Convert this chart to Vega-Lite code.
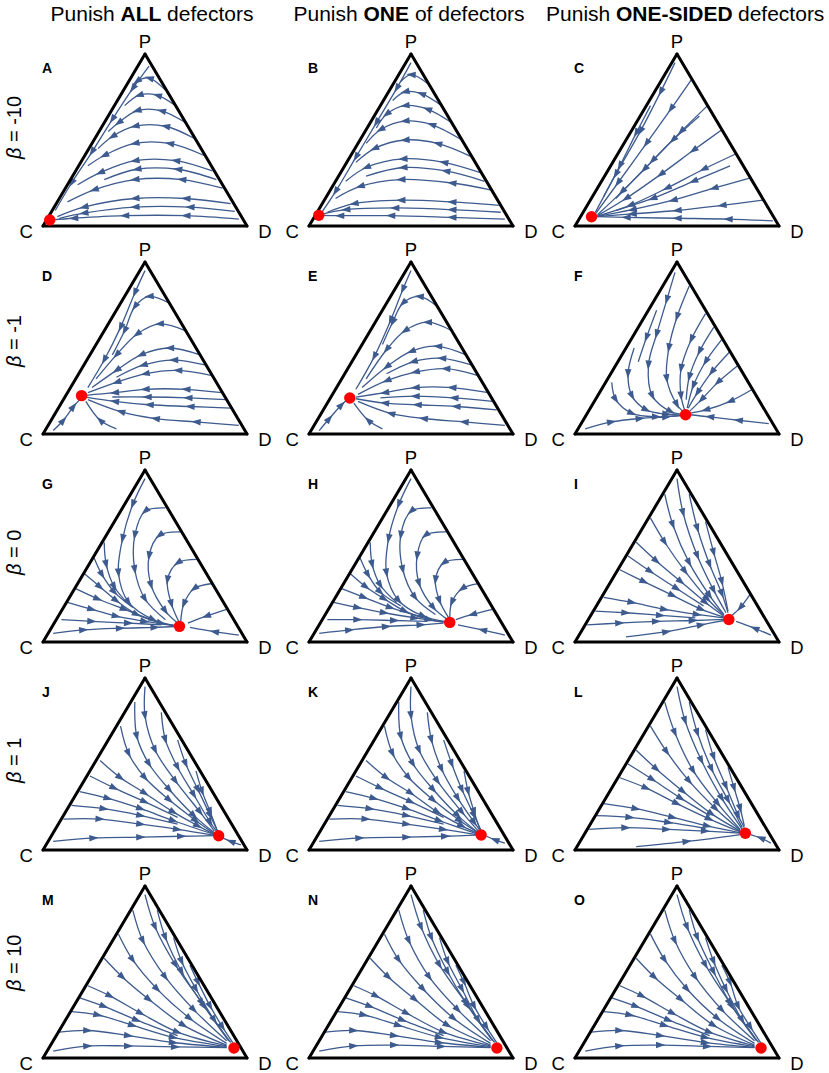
{
"$schema": "https://vega.github.io/schema/vega-lite/v6.json",
"padding": {"left": 5, "top": 3, "right": 0, "bottom": 6},
"background": "white",
"data": {"values": [
{"p":"A","k":"e","x":0.033,"y":0.035,"b":"= -10"},
{"p":"B","k":"e","x":0.048,"y":0.062},
{"p":"C","k":"e","x":0.081,"y":0.054},
{"p":"D","k":"e","x":0.189,"y":0.223,"b":"= -1"},
{"p":"E","k":"e","x":0.2,"y":0.209},
{"p":"F","k":"e","x":0.542,"y":0.112},
{"p":"G","k":"e","x":0.669,"y":0.091,"b":"= 0"},
{"p":"H","k":"e","x":0.69,"y":0.114},
{"p":"I","k":"e","x":0.754,"y":0.131},
{"p":"J","k":"e","x":0.861,"y":0.083,"b":"= 1"},
{"p":"K","k":"e","x":0.844,"y":0.087},
{"p":"L","k":"e","x":0.835,"y":0.097},
{"p":"M","k":"e","x":0.936,"y":0.058,"b":"= 10"},
{"p":"N","k":"e","x":0.921,"y":0.058},
{"p":"O","k":"e","x":0.912,"y":0.058},

{"p":"A","l":1,"x":0.96,"y":0.04},{"p":"A","l":1,"x":0.7,"y":0.06},{"p":"A","l":1,"x":0.4,"y":0.06},{"p":"A","l":1,"x":0.15,"y":0.045},{"p":"A","l":1,"x":0.05,"y":0.036},
{"p":"A","l":2,"x":0.92,"y":0.13},{"p":"A","l":2,"x":0.7,"y":0.16},{"p":"A","l":2,"x":0.45,"y":0.16},{"p":"A","l":2,"x":0.2,"y":0.11},{"p":"A","l":2,"x":0.07,"y":0.055},
{"p":"A","l":3,"x":0.88,"y":0.22},{"p":"A","l":3,"x":0.68,"y":0.27},{"p":"A","l":3,"x":0.45,"y":0.27},{"p":"A","l":3,"x":0.25,"y":0.21},{"p":"A","l":3,"x":0.12,"y":0.14},
{"p":"A","l":4,"x":0.83,"y":0.32},{"p":"A","l":4,"x":0.65,"y":0.38},{"p":"A","l":4,"x":0.45,"y":0.38},{"p":"A","l":4,"x":0.28,"y":0.31},{"p":"A","l":4,"x":0.17,"y":0.24},
{"p":"A","l":5,"x":0.79,"y":0.41},{"p":"A","l":5,"x":0.62,"y":0.48},{"p":"A","l":5,"x":0.45,"y":0.48},{"p":"A","l":5,"x":0.3,"y":0.41},{"p":"A","l":5,"x":0.22,"y":0.35},
{"p":"A","l":6,"x":0.74,"y":0.51},{"p":"A","l":6,"x":0.6,"y":0.58},{"p":"A","l":6,"x":0.45,"y":0.58},{"p":"A","l":6,"x":0.34,"y":0.52},{"p":"A","l":6,"x":0.27,"y":0.45},
{"p":"A","l":7,"x":0.7,"y":0.6},{"p":"A","l":7,"x":0.58,"y":0.67},{"p":"A","l":7,"x":0.46,"y":0.67},{"p":"A","l":7,"x":0.37,"y":0.6},{"p":"A","l":7,"x":0.32,"y":0.55},
{"p":"A","l":8,"x":0.65,"y":0.7},{"p":"A","l":8,"x":0.56,"y":0.76},{"p":"A","l":8,"x":0.47,"y":0.76},{"p":"A","l":8,"x":0.4,"y":0.7},
{"p":"A","l":9,"x":0.6,"y":0.79},{"p":"A","l":9,"x":0.52,"y":0.86},{"p":"A","l":9,"x":0.46,"y":0.84},{"p":"A","l":9,"x":0.43,"y":0.78},
{"p":"A","l":10,"x":0.52,"y":0.93},{"p":"A","l":10,"x":0.44,"y":0.8},{"p":"A","l":10,"x":0.34,"y":0.62},{"p":"A","l":10,"x":0.24,"y":0.43},{"p":"A","l":10,"x":0.14,"y":0.25},{"p":"A","l":10,"x":0.06,"y":0.09},
{"p":"A","l":11,"x":0.94,"y":0.085},{"p":"A","l":11,"x":0.72,"y":0.11},{"p":"A","l":11,"x":0.45,"y":0.11},{"p":"A","l":11,"x":0.2,"y":0.075},{"p":"A","l":11,"x":0.08,"y":0.045},
{"p":"A","l":12,"x":0.85,"y":0.27},{"p":"A","l":12,"x":0.66,"y":0.33},{"p":"A","l":12,"x":0.46,"y":0.33},{"p":"A","l":12,"x":0.3,"y":0.27},

{"p":"B","l":1,"x":0.96,"y":0.04},{"p":"B","l":1,"x":0.7,"y":0.05},{"p":"B","l":1,"x":0.4,"y":0.06},{"p":"B","l":1,"x":0.15,"y":0.06},{"p":"B","l":1,"x":0.06,"y":0.062},
{"p":"B","l":2,"x":0.93,"y":0.12},{"p":"B","l":2,"x":0.7,"y":0.14},{"p":"B","l":2,"x":0.45,"y":0.15},{"p":"B","l":2,"x":0.22,"y":0.13},{"p":"B","l":2,"x":0.09,"y":0.08},
{"p":"B","l":3,"x":0.89,"y":0.21},{"p":"B","l":3,"x":0.7,"y":0.25},{"p":"B","l":3,"x":0.45,"y":0.27},{"p":"B","l":3,"x":0.25,"y":0.23},{"p":"B","l":3,"x":0.13,"y":0.16},
{"p":"B","l":4,"x":0.84,"y":0.31},{"p":"B","l":4,"x":0.66,"y":0.37},{"p":"B","l":4,"x":0.46,"y":0.39},{"p":"B","l":4,"x":0.28,"y":0.34},{"p":"B","l":4,"x":0.18,"y":0.26},
{"p":"B","l":5,"x":0.8,"y":0.4},{"p":"B","l":5,"x":0.63,"y":0.48},{"p":"B","l":5,"x":0.47,"y":0.5},{"p":"B","l":5,"x":0.32,"y":0.45},{"p":"B","l":5,"x":0.23,"y":0.37},
{"p":"B","l":6,"x":0.75,"y":0.5},{"p":"B","l":6,"x":0.6,"y":0.59},{"p":"B","l":6,"x":0.47,"y":0.61},{"p":"B","l":6,"x":0.35,"y":0.56},{"p":"B","l":6,"x":0.28,"y":0.48},
{"p":"B","l":7,"x":0.7,"y":0.6},{"p":"B","l":7,"x":0.58,"y":0.68},{"p":"B","l":7,"x":0.47,"y":0.7},{"p":"B","l":7,"x":0.38,"y":0.65},{"p":"B","l":7,"x":0.33,"y":0.57},
{"p":"B","l":8,"x":0.65,"y":0.7},{"p":"B","l":8,"x":0.55,"y":0.77},{"p":"B","l":8,"x":0.47,"y":0.78},{"p":"B","l":8,"x":0.41,"y":0.73},
{"p":"B","l":9,"x":0.58,"y":0.83},{"p":"B","l":9,"x":0.5,"y":0.88},{"p":"B","l":9,"x":0.45,"y":0.84},
{"p":"B","l":10,"x":0.5,"y":0.95},{"p":"B","l":10,"x":0.43,"y":0.8},{"p":"B","l":10,"x":0.33,"y":0.6},{"p":"B","l":10,"x":0.23,"y":0.4},{"p":"B","l":10,"x":0.13,"y":0.2},{"p":"B","l":10,"x":0.06,"y":0.075},
{"p":"B","l":11,"x":0.94,"y":0.08},{"p":"B","l":11,"x":0.7,"y":0.095},{"p":"B","l":11,"x":0.42,"y":0.105},{"p":"B","l":11,"x":0.18,"y":0.095},{"p":"B","l":11,"x":0.07,"y":0.07},
{"p":"B","l":12,"x":0.86,"y":0.26},{"p":"B","l":12,"x":0.67,"y":0.32},{"p":"B","l":12,"x":0.46,"y":0.34},{"p":"B","l":12,"x":0.28,"y":0.29},

{"p":"C","l":1,"x":0.49,"y":0.95},{"p":"C","l":1,"x":0.42,"y":0.78},{"p":"C","l":1,"x":0.32,"y":0.55},{"p":"C","l":1,"x":0.2,"y":0.3},{"p":"C","l":1,"x":0.1,"y":0.08},
{"p":"C","l":2,"x":0.57,"y":0.85},{"p":"C","l":2,"x":0.47,"y":0.68},{"p":"C","l":2,"x":0.35,"y":0.48},{"p":"C","l":2,"x":0.21,"y":0.25},{"p":"C","l":2,"x":0.1,"y":0.07},
{"p":"C","l":3,"x":0.65,"y":0.7},{"p":"C","l":3,"x":0.52,"y":0.55},{"p":"C","l":3,"x":0.38,"y":0.38},{"p":"C","l":3,"x":0.23,"y":0.2},{"p":"C","l":3,"x":0.11,"y":0.065},
{"p":"C","l":4,"x":0.72,"y":0.56},{"p":"C","l":4,"x":0.58,"y":0.44},{"p":"C","l":4,"x":0.42,"y":0.3},{"p":"C","l":4,"x":0.25,"y":0.16},{"p":"C","l":4,"x":0.11,"y":0.06},
{"p":"C","l":5,"x":0.79,"y":0.42},{"p":"C","l":5,"x":0.63,"y":0.33},{"p":"C","l":5,"x":0.45,"y":0.22},{"p":"C","l":5,"x":0.27,"y":0.12},{"p":"C","l":5,"x":0.11,"y":0.058},
{"p":"C","l":6,"x":0.86,"y":0.28},{"p":"C","l":6,"x":0.68,"y":0.22},{"p":"C","l":6,"x":0.48,"y":0.15},{"p":"C","l":6,"x":0.28,"y":0.095},{"p":"C","l":6,"x":0.11,"y":0.056},
{"p":"C","l":7,"x":0.92,"y":0.15},{"p":"C","l":7,"x":0.72,"y":0.12},{"p":"C","l":7,"x":0.5,"y":0.09},{"p":"C","l":7,"x":0.28,"y":0.07},{"p":"C","l":7,"x":0.11,"y":0.055},
{"p":"C","l":8,"x":0.97,"y":0.03},{"p":"C","l":8,"x":0.75,"y":0.04},{"p":"C","l":8,"x":0.5,"y":0.045},{"p":"C","l":8,"x":0.25,"y":0.05},{"p":"C","l":8,"x":0.11,"y":0.054},
{"p":"C","l":9,"x":0.37,"y":0.7},{"p":"C","l":9,"x":0.3,"y":0.54},{"p":"C","l":9,"x":0.22,"y":0.35},{"p":"C","l":9,"x":0.14,"y":0.17},
{"p":"C","l":10,"x":0.61,"y":0.64},{"p":"C","l":10,"x":0.48,"y":0.5},{"p":"C","l":10,"x":0.34,"y":0.33},{"p":"C","l":10,"x":0.2,"y":0.16},
{"p":"C","l":11,"x":0.76,"y":0.35},{"p":"C","l":11,"x":0.58,"y":0.26},{"p":"C","l":11,"x":0.38,"y":0.16},{"p":"C","l":11,"x":0.2,"y":0.09},

{"p":"D","l":1,"x":0.5,"y":0.95},{"p":"D","l":1,"x":0.45,"y":0.82},{"p":"D","l":1,"x":0.38,"y":0.62},{"p":"D","l":1,"x":0.3,"y":0.43},{"p":"D","l":1,"x":0.22,"y":0.27},
{"p":"D","l":2,"x":0.62,"y":0.76},{"p":"D","l":2,"x":0.52,"y":0.8},{"p":"D","l":2,"x":0.45,"y":0.74},{"p":"D","l":2,"x":0.4,"y":0.6},{"p":"D","l":2,"x":0.34,"y":0.46},
{"p":"D","l":3,"x":0.7,"y":0.6},{"p":"D","l":3,"x":0.57,"y":0.64},{"p":"D","l":3,"x":0.46,"y":0.58},{"p":"D","l":3,"x":0.36,"y":0.46},{"p":"D","l":3,"x":0.26,"y":0.32},
{"p":"D","l":4,"x":0.77,"y":0.46},{"p":"D","l":4,"x":0.62,"y":0.5},{"p":"D","l":4,"x":0.48,"y":0.46},{"p":"D","l":4,"x":0.36,"y":0.37},{"p":"D","l":4,"x":0.24,"y":0.27},
{"p":"D","l":5,"x":0.83,"y":0.34},{"p":"D","l":5,"x":0.66,"y":0.37},{"p":"D","l":5,"x":0.5,"y":0.35},{"p":"D","l":5,"x":0.36,"y":0.3},{"p":"D","l":5,"x":0.22,"y":0.24},
{"p":"D","l":6,"x":0.88,"y":0.24},{"p":"D","l":6,"x":0.7,"y":0.26},{"p":"D","l":6,"x":0.5,"y":0.26},{"p":"D","l":6,"x":0.35,"y":0.24},{"p":"D","l":6,"x":0.21,"y":0.225},
{"p":"D","l":7,"x":0.92,"y":0.15},{"p":"D","l":7,"x":0.72,"y":0.16},{"p":"D","l":7,"x":0.52,"y":0.17},{"p":"D","l":7,"x":0.35,"y":0.19},{"p":"D","l":7,"x":0.21,"y":0.215},
{"p":"D","l":8,"x":0.96,"y":0.05},{"p":"D","l":8,"x":0.75,"y":0.07},{"p":"D","l":8,"x":0.55,"y":0.09},{"p":"D","l":8,"x":0.38,"y":0.13},{"p":"D","l":8,"x":0.22,"y":0.2},
{"p":"D","l":9,"x":0.05,"y":0.02},{"p":"D","l":9,"x":0.1,"y":0.08},{"p":"D","l":9,"x":0.15,"y":0.16},{"p":"D","l":9,"x":0.18,"y":0.2},
{"p":"D","l":10,"x":0.36,"y":0.03},{"p":"D","l":10,"x":0.28,"y":0.08},{"p":"D","l":10,"x":0.21,"y":0.19},
{"p":"D","l":11,"x":0.8,"y":0.4},{"p":"D","l":11,"x":0.64,"y":0.43},{"p":"D","l":11,"x":0.49,"y":0.4},{"p":"D","l":11,"x":0.36,"y":0.33},
{"p":"D","l":12,"x":0.9,"y":0.2},{"p":"D","l":12,"x":0.71,"y":0.21},{"p":"D","l":12,"x":0.51,"y":0.215},{"p":"D","l":12,"x":0.34,"y":0.215},

{"p":"E","l":1,"x":0.5,"y":0.95},{"p":"E","l":1,"x":0.46,"y":0.84},{"p":"E","l":1,"x":0.4,"y":0.66},{"p":"E","l":1,"x":0.32,"y":0.45},{"p":"E","l":1,"x":0.23,"y":0.26},
{"p":"E","l":2,"x":0.63,"y":0.74},{"p":"E","l":2,"x":0.54,"y":0.8},{"p":"E","l":2,"x":0.46,"y":0.76},{"p":"E","l":2,"x":0.41,"y":0.65},{"p":"E","l":2,"x":0.36,"y":0.52},
{"p":"E","l":3,"x":0.7,"y":0.6},{"p":"E","l":3,"x":0.58,"y":0.65},{"p":"E","l":3,"x":0.47,"y":0.6},{"p":"E","l":3,"x":0.38,"y":0.49},{"p":"E","l":3,"x":0.28,"y":0.32},
{"p":"E","l":4,"x":0.77,"y":0.46},{"p":"E","l":4,"x":0.63,"y":0.51},{"p":"E","l":4,"x":0.5,"y":0.48},{"p":"E","l":4,"x":0.38,"y":0.39},{"p":"E","l":4,"x":0.26,"y":0.27},
{"p":"E","l":5,"x":0.83,"y":0.34},{"p":"E","l":5,"x":0.67,"y":0.38},{"p":"E","l":5,"x":0.52,"y":0.36},{"p":"E","l":5,"x":0.38,"y":0.31},{"p":"E","l":5,"x":0.24,"y":0.23},
{"p":"E","l":6,"x":0.88,"y":0.24},{"p":"E","l":6,"x":0.7,"y":0.27},{"p":"E","l":6,"x":0.52,"y":0.27},{"p":"E","l":6,"x":0.37,"y":0.24},{"p":"E","l":6,"x":0.23,"y":0.215},
{"p":"E","l":7,"x":0.92,"y":0.14},{"p":"E","l":7,"x":0.72,"y":0.16},{"p":"E","l":7,"x":0.53,"y":0.17},{"p":"E","l":7,"x":0.37,"y":0.18},{"p":"E","l":7,"x":0.23,"y":0.205},
{"p":"E","l":8,"x":0.96,"y":0.05},{"p":"E","l":8,"x":0.76,"y":0.07},{"p":"E","l":8,"x":0.56,"y":0.09},{"p":"E","l":8,"x":0.4,"y":0.12},{"p":"E","l":8,"x":0.24,"y":0.19},
{"p":"E","l":9,"x":0.05,"y":0.02},{"p":"E","l":9,"x":0.1,"y":0.09},{"p":"E","l":9,"x":0.16,"y":0.17},{"p":"E","l":9,"x":0.19,"y":0.2},
{"p":"E","l":10,"x":0.36,"y":0.03},{"p":"E","l":10,"x":0.29,"y":0.08},{"p":"E","l":10,"x":0.22,"y":0.18},
{"p":"E","l":11,"x":0.8,"y":0.4},{"p":"E","l":11,"x":0.65,"y":0.44},{"p":"E","l":11,"x":0.51,"y":0.42},{"p":"E","l":11,"x":0.38,"y":0.35},
{"p":"E","l":12,"x":0.9,"y":0.19},{"p":"E","l":12,"x":0.71,"y":0.21},{"p":"E","l":12,"x":0.52,"y":0.22},{"p":"E","l":12,"x":0.35,"y":0.21},

{"p":"F","l":1,"x":0.49,"y":0.94},{"p":"F","l":1,"x":0.45,"y":0.78},{"p":"F","l":1,"x":0.4,"y":0.58},{"p":"F","l":1,"x":0.36,"y":0.4},{"p":"F","l":1,"x":0.38,"y":0.22},{"p":"F","l":1,"x":0.47,"y":0.13},{"p":"F","l":1,"x":0.53,"y":0.115},
{"p":"F","l":2,"x":0.56,"y":0.86},{"p":"F","l":2,"x":0.5,"y":0.68},{"p":"F","l":2,"x":0.46,"y":0.5},{"p":"F","l":2,"x":0.45,"y":0.32},{"p":"F","l":2,"x":0.5,"y":0.17},{"p":"F","l":2,"x":0.535,"y":0.125},
{"p":"F","l":3,"x":0.64,"y":0.7},{"p":"F","l":3,"x":0.57,"y":0.55},{"p":"F","l":3,"x":0.52,"y":0.38},{"p":"F","l":3,"x":0.52,"y":0.22},{"p":"F","l":3,"x":0.54,"y":0.13},
{"p":"F","l":4,"x":0.72,"y":0.55},{"p":"F","l":4,"x":0.64,"y":0.42},{"p":"F","l":4,"x":0.58,"y":0.28},{"p":"F","l":4,"x":0.55,"y":0.15},
{"p":"F","l":5,"x":0.8,"y":0.4},{"p":"F","l":5,"x":0.7,"y":0.3},{"p":"F","l":5,"x":0.62,"y":0.2},{"p":"F","l":5,"x":0.56,"y":0.13},
{"p":"F","l":6,"x":0.87,"y":0.26},{"p":"F","l":6,"x":0.76,"y":0.19},{"p":"F","l":6,"x":0.64,"y":0.14},{"p":"F","l":6,"x":0.56,"y":0.12},
{"p":"F","l":7,"x":0.95,"y":0.06},{"p":"F","l":7,"x":0.8,"y":0.08},{"p":"F","l":7,"x":0.66,"y":0.1},{"p":"F","l":7,"x":0.56,"y":0.112},
{"p":"F","l":8,"x":0.29,"y":0.5},{"p":"F","l":8,"x":0.26,"y":0.35},{"p":"F","l":8,"x":0.28,"y":0.22},{"p":"F","l":8,"x":0.35,"y":0.14},{"p":"F","l":8,"x":0.45,"y":0.115},{"p":"F","l":8,"x":0.53,"y":0.11},
{"p":"F","l":9,"x":0.18,"y":0.3},{"p":"F","l":9,"x":0.2,"y":0.2},{"p":"F","l":9,"x":0.28,"y":0.12},{"p":"F","l":9,"x":0.4,"y":0.1},{"p":"F","l":9,"x":0.52,"y":0.108},
{"p":"F","l":10,"x":0.05,"y":0.03},{"p":"F","l":10,"x":0.18,"y":0.07},{"p":"F","l":10,"x":0.32,"y":0.09},{"p":"F","l":10,"x":0.45,"y":0.1},{"p":"F","l":10,"x":0.53,"y":0.108},
{"p":"F","l":11,"x":0.4,"y":0.72},{"p":"F","l":11,"x":0.35,"y":0.56},{"p":"F","l":11,"x":0.31,"y":0.42},
{"p":"F","l":12,"x":0.68,"y":0.62},{"p":"F","l":12,"x":0.61,"y":0.48},{"p":"F","l":12,"x":0.56,"y":0.33},{"p":"F","l":12,"x":0.545,"y":0.2},
{"p":"F","l":13,"x":0.76,"y":0.48},{"p":"F","l":13,"x":0.67,"y":0.36},{"p":"F","l":13,"x":0.6,"y":0.24},{"p":"F","l":13,"x":0.555,"y":0.15},

{"p":"G","l":1,"x":0.5,"y":0.95},{"p":"G","l":1,"x":0.44,"y":0.8},{"p":"G","l":1,"x":0.39,"y":0.6},{"p":"G","l":1,"x":0.37,"y":0.4},{"p":"G","l":1,"x":0.42,"y":0.23},{"p":"G","l":1,"x":0.54,"y":0.13},{"p":"G","l":1,"x":0.65,"y":0.095},
{"p":"G","l":2,"x":0.6,"y":0.78},{"p":"G","l":2,"x":0.5,"y":0.76},{"p":"G","l":2,"x":0.45,"y":0.62},{"p":"G","l":2,"x":0.45,"y":0.42},{"p":"G","l":2,"x":0.5,"y":0.25},{"p":"G","l":2,"x":0.6,"y":0.13},
{"p":"G","l":3,"x":0.68,"y":0.64},{"p":"G","l":3,"x":0.57,"y":0.62},{"p":"G","l":3,"x":0.52,"y":0.5},{"p":"G","l":3,"x":0.53,"y":0.33},{"p":"G","l":3,"x":0.6,"y":0.18},{"p":"G","l":3,"x":0.66,"y":0.11},
{"p":"G","l":4,"x":0.76,"y":0.48},{"p":"G","l":4,"x":0.66,"y":0.46},{"p":"G","l":4,"x":0.61,"y":0.36},{"p":"G","l":4,"x":0.63,"y":0.22},{"p":"G","l":4,"x":0.665,"y":0.12},
{"p":"G","l":5,"x":0.83,"y":0.34},{"p":"G","l":5,"x":0.74,"y":0.31},{"p":"G","l":5,"x":0.69,"y":0.22},{"p":"G","l":5,"x":0.675,"y":0.12},
{"p":"G","l":6,"x":0.9,"y":0.19},{"p":"G","l":6,"x":0.8,"y":0.15},{"p":"G","l":6,"x":0.71,"y":0.11},
{"p":"G","l":7,"x":0.96,"y":0.04},{"p":"G","l":7,"x":0.84,"y":0.06},{"p":"G","l":7,"x":0.72,"y":0.085},
{"p":"G","l":8,"x":0.2,"y":0.4},{"p":"G","l":8,"x":0.28,"y":0.32},{"p":"G","l":8,"x":0.36,"y":0.24},{"p":"G","l":8,"x":0.46,"y":0.16},{"p":"G","l":8,"x":0.58,"y":0.11},{"p":"G","l":8,"x":0.65,"y":0.095},
{"p":"G","l":9,"x":0.12,"y":0.23},{"p":"G","l":9,"x":0.24,"y":0.19},{"p":"G","l":9,"x":0.36,"y":0.15},{"p":"G","l":9,"x":0.5,"y":0.12},{"p":"G","l":9,"x":0.64,"y":0.095},
{"p":"G","l":10,"x":0.05,"y":0.05},{"p":"G","l":10,"x":0.2,"y":0.07},{"p":"G","l":10,"x":0.38,"y":0.08},{"p":"G","l":10,"x":0.55,"y":0.085},{"p":"G","l":10,"x":0.65,"y":0.09},
{"p":"G","l":11,"x":0.3,"y":0.58},{"p":"G","l":11,"x":0.31,"y":0.45},{"p":"G","l":11,"x":0.35,"y":0.32},{"p":"G","l":11,"x":0.42,"y":0.22},
{"p":"G","l":12,"x":0.16,"y":0.31},{"p":"G","l":12,"x":0.27,"y":0.25},{"p":"G","l":12,"x":0.4,"y":0.19},{"p":"G","l":12,"x":0.53,"y":0.13},
{"p":"G","l":13,"x":0.09,"y":0.13},{"p":"G","l":13,"x":0.24,"y":0.12},{"p":"G","l":13,"x":0.42,"y":0.11},{"p":"G","l":13,"x":0.58,"y":0.1},
{"p":"G","l":14,"x":0.25,"y":0.49},{"p":"G","l":14,"x":0.29,"y":0.39},{"p":"G","l":14,"x":0.35,"y":0.29},{"p":"G","l":14,"x":0.44,"y":0.2},

{"p":"H","l":1,"x":0.5,"y":0.95},{"p":"H","l":1,"x":0.44,"y":0.8},{"p":"H","l":1,"x":0.39,"y":0.6},{"p":"H","l":1,"x":0.38,"y":0.4},{"p":"H","l":1,"x":0.44,"y":0.24},{"p":"H","l":1,"x":0.56,"y":0.15},{"p":"H","l":1,"x":0.67,"y":0.118},
{"p":"H","l":2,"x":0.6,"y":0.78},{"p":"H","l":2,"x":0.5,"y":0.76},{"p":"H","l":2,"x":0.45,"y":0.62},{"p":"H","l":2,"x":0.46,"y":0.42},{"p":"H","l":2,"x":0.52,"y":0.26},{"p":"H","l":2,"x":0.62,"y":0.16},
{"p":"H","l":3,"x":0.68,"y":0.64},{"p":"H","l":3,"x":0.57,"y":0.62},{"p":"H","l":3,"x":0.53,"y":0.5},{"p":"H","l":3,"x":0.54,"y":0.34},{"p":"H","l":3,"x":0.61,"y":0.2},{"p":"H","l":3,"x":0.68,"y":0.13},
{"p":"H","l":4,"x":0.76,"y":0.48},{"p":"H","l":4,"x":0.66,"y":0.46},{"p":"H","l":4,"x":0.62,"y":0.36},{"p":"H","l":4,"x":0.64,"y":0.24},{"p":"H","l":4,"x":0.685,"y":0.14},
{"p":"H","l":5,"x":0.83,"y":0.34},{"p":"H","l":5,"x":0.75,"y":0.31},{"p":"H","l":5,"x":0.7,"y":0.23},{"p":"H","l":5,"x":0.69,"y":0.14},
{"p":"H","l":6,"x":0.9,"y":0.19},{"p":"H","l":6,"x":0.8,"y":0.16},{"p":"H","l":6,"x":0.72,"y":0.13},
{"p":"H","l":7,"x":0.96,"y":0.04},{"p":"H","l":7,"x":0.85,"y":0.07},{"p":"H","l":7,"x":0.73,"y":0.1},
{"p":"H","l":8,"x":0.2,"y":0.4},{"p":"H","l":8,"x":0.28,"y":0.32},{"p":"H","l":8,"x":0.37,"y":0.25},{"p":"H","l":8,"x":0.47,"y":0.18},{"p":"H","l":8,"x":0.59,"y":0.13},{"p":"H","l":8,"x":0.67,"y":0.115},
{"p":"H","l":9,"x":0.12,"y":0.23},{"p":"H","l":9,"x":0.24,"y":0.2},{"p":"H","l":9,"x":0.37,"y":0.17},{"p":"H","l":9,"x":0.52,"y":0.14},{"p":"H","l":9,"x":0.66,"y":0.115},
{"p":"H","l":10,"x":0.05,"y":0.05},{"p":"H","l":10,"x":0.2,"y":0.07},{"p":"H","l":10,"x":0.38,"y":0.09},{"p":"H","l":10,"x":0.55,"y":0.1},{"p":"H","l":10,"x":0.66,"y":0.11},
{"p":"H","l":11,"x":0.3,"y":0.58},{"p":"H","l":11,"x":0.31,"y":0.45},{"p":"H","l":11,"x":0.35,"y":0.33},{"p":"H","l":11,"x":0.43,"y":0.23},
{"p":"H","l":12,"x":0.16,"y":0.31},{"p":"H","l":12,"x":0.27,"y":0.26},{"p":"H","l":12,"x":0.4,"y":0.2},{"p":"H","l":12,"x":0.54,"y":0.15},
{"p":"H","l":13,"x":0.09,"y":0.13},{"p":"H","l":13,"x":0.24,"y":0.13},{"p":"H","l":13,"x":0.42,"y":0.125},{"p":"H","l":13,"x":0.58,"y":0.12},
{"p":"H","l":14,"x":0.25,"y":0.49},{"p":"H","l":14,"x":0.29,"y":0.39},{"p":"H","l":14,"x":0.35,"y":0.29},{"p":"H","l":14,"x":0.45,"y":0.21},

{"p":"I","l":1,"x":0.5,"y":0.95},{"p":"I","l":1,"x":0.53,"y":0.75},{"p":"I","l":1,"x":0.6,"y":0.5},{"p":"I","l":1,"x":0.68,"y":0.3},{"p":"I","l":1,"x":0.74,"y":0.17},
{"p":"I","l":2,"x":0.44,"y":0.86},{"p":"I","l":2,"x":0.48,"y":0.68},{"p":"I","l":2,"x":0.56,"y":0.46},{"p":"I","l":2,"x":0.66,"y":0.27},{"p":"I","l":2,"x":0.73,"y":0.16},
{"p":"I","l":3,"x":0.37,"y":0.72},{"p":"I","l":3,"x":0.44,"y":0.58},{"p":"I","l":3,"x":0.54,"y":0.41},{"p":"I","l":3,"x":0.65,"y":0.25},{"p":"I","l":3,"x":0.73,"y":0.155},
{"p":"I","l":4,"x":0.3,"y":0.58},{"p":"I","l":4,"x":0.4,"y":0.47},{"p":"I","l":4,"x":0.52,"y":0.35},{"p":"I","l":4,"x":0.64,"y":0.23},{"p":"I","l":4,"x":0.73,"y":0.15},
{"p":"I","l":5,"x":0.22,"y":0.42},{"p":"I","l":5,"x":0.34,"y":0.35},{"p":"I","l":5,"x":0.48,"y":0.27},{"p":"I","l":5,"x":0.62,"y":0.19},{"p":"I","l":5,"x":0.73,"y":0.145},
{"p":"I","l":6,"x":0.14,"y":0.26},{"p":"I","l":6,"x":0.28,"y":0.23},{"p":"I","l":6,"x":0.44,"y":0.19},{"p":"I","l":6,"x":0.6,"y":0.16},{"p":"I","l":6,"x":0.73,"y":0.14},
{"p":"I","l":7,"x":0.06,"y":0.1},{"p":"I","l":7,"x":0.22,"y":0.11},{"p":"I","l":7,"x":0.4,"y":0.12},{"p":"I","l":7,"x":0.58,"y":0.125},{"p":"I","l":7,"x":0.73,"y":0.132},
{"p":"I","l":8,"x":0.56,"y":0.86},{"p":"I","l":8,"x":0.6,"y":0.66},{"p":"I","l":8,"x":0.66,"y":0.45},{"p":"I","l":8,"x":0.72,"y":0.28},{"p":"I","l":8,"x":0.75,"y":0.17},
{"p":"I","l":9,"x":0.64,"y":0.7},{"p":"I","l":9,"x":0.68,"y":0.52},{"p":"I","l":9,"x":0.72,"y":0.35},{"p":"I","l":9,"x":0.75,"y":0.18},
{"p":"I","l":10,"x":0.96,"y":0.04},{"p":"I","l":10,"x":0.88,"y":0.08},{"p":"I","l":10,"x":0.79,"y":0.12},
{"p":"I","l":11,"x":0.86,"y":0.28},{"p":"I","l":11,"x":0.81,"y":0.2},{"p":"I","l":11,"x":0.77,"y":0.155},
{"p":"I","l":12,"x":0.25,"y":0.03},{"p":"I","l":12,"x":0.45,"y":0.06},{"p":"I","l":12,"x":0.62,"y":0.1},{"p":"I","l":12,"x":0.73,"y":0.125},
{"p":"I","l":13,"x":0.26,"y":0.5},{"p":"I","l":13,"x":0.37,"y":0.41},{"p":"I","l":13,"x":0.5,"y":0.31},{"p":"I","l":13,"x":0.63,"y":0.21},
{"p":"I","l":14,"x":0.1,"y":0.18},{"p":"I","l":14,"x":0.25,"y":0.17},{"p":"I","l":14,"x":0.42,"y":0.155},{"p":"I","l":14,"x":0.59,"y":0.14},

{"p":"J","l":1,"x":0.5,"y":0.95},{"p":"J","l":1,"x":0.5,"y":0.78},{"p":"J","l":1,"x":0.55,"y":0.58},{"p":"J","l":1,"x":0.65,"y":0.4},{"p":"J","l":1,"x":0.77,"y":0.22},{"p":"J","l":1,"x":0.84,"y":0.11},
{"p":"J","l":2,"x":0.58,"y":0.8},{"p":"J","l":2,"x":0.6,"y":0.64},{"p":"J","l":2,"x":0.66,"y":0.48},{"p":"J","l":2,"x":0.74,"y":0.32},{"p":"J","l":2,"x":0.82,"y":0.16},{"p":"J","l":2,"x":0.85,"y":0.11},
{"p":"J","l":3,"x":0.66,"y":0.64},{"p":"J","l":3,"x":0.7,"y":0.5},{"p":"J","l":3,"x":0.76,"y":0.35},{"p":"J","l":3,"x":0.82,"y":0.2},{"p":"J","l":3,"x":0.855,"y":0.11},
{"p":"J","l":4,"x":0.45,"y":0.86},{"p":"J","l":4,"x":0.46,"y":0.66},{"p":"J","l":4,"x":0.52,"y":0.5},{"p":"J","l":4,"x":0.62,"y":0.35},{"p":"J","l":4,"x":0.74,"y":0.2},{"p":"J","l":4,"x":0.84,"y":0.1},
{"p":"J","l":5,"x":0.38,"y":0.72},{"p":"J","l":5,"x":0.42,"y":0.56},{"p":"J","l":5,"x":0.5,"y":0.42},{"p":"J","l":5,"x":0.62,"y":0.29},{"p":"J","l":5,"x":0.75,"y":0.17},{"p":"J","l":5,"x":0.84,"y":0.095},
{"p":"J","l":6,"x":0.28,"y":0.52},{"p":"J","l":6,"x":0.38,"y":0.42},{"p":"J","l":6,"x":0.5,"y":0.33},{"p":"J","l":6,"x":0.64,"y":0.22},{"p":"J","l":6,"x":0.76,"y":0.14},{"p":"J","l":6,"x":0.84,"y":0.09},
{"p":"J","l":7,"x":0.18,"y":0.34},{"p":"J","l":7,"x":0.32,"y":0.3},{"p":"J","l":7,"x":0.48,"y":0.24},{"p":"J","l":7,"x":0.64,"y":0.17},{"p":"J","l":7,"x":0.84,"y":0.09},
{"p":"J","l":8,"x":0.1,"y":0.18},{"p":"J","l":8,"x":0.28,"y":0.18},{"p":"J","l":8,"x":0.48,"y":0.15},{"p":"J","l":8,"x":0.66,"y":0.12},{"p":"J","l":8,"x":0.84,"y":0.085},
{"p":"J","l":9,"x":0.05,"y":0.05},{"p":"J","l":9,"x":0.25,"y":0.07},{"p":"J","l":9,"x":0.48,"y":0.075},{"p":"J","l":9,"x":0.68,"y":0.08},{"p":"J","l":9,"x":0.84,"y":0.083},
{"p":"J","l":10,"x":0.75,"y":0.46},{"p":"J","l":10,"x":0.78,"y":0.34},{"p":"J","l":10,"x":0.82,"y":0.22},{"p":"J","l":10,"x":0.855,"y":0.11},
{"p":"J","l":11,"x":0.97,"y":0.03},{"p":"J","l":11,"x":0.92,"y":0.05},{"p":"J","l":11,"x":0.88,"y":0.07},
{"p":"J","l":12,"x":0.23,"y":0.43},{"p":"J","l":12,"x":0.35,"y":0.36},{"p":"J","l":12,"x":0.5,"y":0.28},{"p":"J","l":12,"x":0.66,"y":0.19},
{"p":"J","l":13,"x":0.14,"y":0.26},{"p":"J","l":13,"x":0.3,"y":0.24},{"p":"J","l":13,"x":0.48,"y":0.2},{"p":"J","l":13,"x":0.66,"y":0.15},

{"p":"K","l":1,"x":0.5,"y":0.95},{"p":"K","l":1,"x":0.5,"y":0.78},{"p":"K","l":1,"x":0.54,"y":0.58},{"p":"K","l":1,"x":0.63,"y":0.4},{"p":"K","l":1,"x":0.75,"y":0.22},{"p":"K","l":1,"x":0.83,"y":0.11},
{"p":"K","l":2,"x":0.58,"y":0.8},{"p":"K","l":2,"x":0.6,"y":0.64},{"p":"K","l":2,"x":0.65,"y":0.47},{"p":"K","l":2,"x":0.73,"y":0.3},{"p":"K","l":2,"x":0.81,"y":0.16},{"p":"K","l":2,"x":0.84,"y":0.11},
{"p":"K","l":3,"x":0.66,"y":0.64},{"p":"K","l":3,"x":0.7,"y":0.5},{"p":"K","l":3,"x":0.75,"y":0.35},{"p":"K","l":3,"x":0.81,"y":0.2},{"p":"K","l":3,"x":0.845,"y":0.11},
{"p":"K","l":4,"x":0.44,"y":0.86},{"p":"K","l":4,"x":0.45,"y":0.66},{"p":"K","l":4,"x":0.51,"y":0.5},{"p":"K","l":4,"x":0.61,"y":0.35},{"p":"K","l":4,"x":0.73,"y":0.2},{"p":"K","l":4,"x":0.83,"y":0.1},
{"p":"K","l":5,"x":0.37,"y":0.72},{"p":"K","l":5,"x":0.41,"y":0.56},{"p":"K","l":5,"x":0.49,"y":0.42},{"p":"K","l":5,"x":0.61,"y":0.29},{"p":"K","l":5,"x":0.74,"y":0.17},{"p":"K","l":5,"x":0.83,"y":0.1},
{"p":"K","l":6,"x":0.28,"y":0.52},{"p":"K","l":6,"x":0.38,"y":0.42},{"p":"K","l":6,"x":0.5,"y":0.33},{"p":"K","l":6,"x":0.63,"y":0.22},{"p":"K","l":6,"x":0.75,"y":0.14},{"p":"K","l":6,"x":0.83,"y":0.095},
{"p":"K","l":7,"x":0.18,"y":0.34},{"p":"K","l":7,"x":0.32,"y":0.3},{"p":"K","l":7,"x":0.48,"y":0.24},{"p":"K","l":7,"x":0.64,"y":0.17},{"p":"K","l":7,"x":0.82,"y":0.095},
{"p":"K","l":8,"x":0.1,"y":0.18},{"p":"K","l":8,"x":0.28,"y":0.18},{"p":"K","l":8,"x":0.48,"y":0.15},{"p":"K","l":8,"x":0.66,"y":0.12},{"p":"K","l":8,"x":0.82,"y":0.09},
{"p":"K","l":9,"x":0.05,"y":0.05},{"p":"K","l":9,"x":0.25,"y":0.07},{"p":"K","l":9,"x":0.48,"y":0.075},{"p":"K","l":9,"x":0.67,"y":0.08},{"p":"K","l":9,"x":0.82,"y":0.087},
{"p":"K","l":10,"x":0.76,"y":0.46},{"p":"K","l":10,"x":0.78,"y":0.34},{"p":"K","l":10,"x":0.81,"y":0.22},{"p":"K","l":10,"x":0.84,"y":0.11},
{"p":"K","l":11,"x":0.96,"y":0.04},{"p":"K","l":11,"x":0.91,"y":0.06},{"p":"K","l":11,"x":0.87,"y":0.08},
{"p":"K","l":12,"x":0.23,"y":0.43},{"p":"K","l":12,"x":0.35,"y":0.36},{"p":"K","l":12,"x":0.5,"y":0.28},{"p":"K","l":12,"x":0.66,"y":0.19},
{"p":"K","l":13,"x":0.14,"y":0.26},{"p":"K","l":13,"x":0.3,"y":0.24},{"p":"K","l":13,"x":0.48,"y":0.2},{"p":"K","l":13,"x":0.66,"y":0.15},

{"p":"L","l":1,"x":0.5,"y":0.95},{"p":"L","l":1,"x":0.54,"y":0.75},{"p":"L","l":1,"x":0.62,"y":0.52},{"p":"L","l":1,"x":0.72,"y":0.3},{"p":"L","l":1,"x":0.82,"y":0.12},
{"p":"L","l":2,"x":0.44,"y":0.86},{"p":"L","l":2,"x":0.49,"y":0.68},{"p":"L","l":2,"x":0.58,"y":0.46},{"p":"L","l":2,"x":0.7,"y":0.27},{"p":"L","l":2,"x":0.81,"y":0.12},
{"p":"L","l":3,"x":0.37,"y":0.72},{"p":"L","l":3,"x":0.45,"y":0.57},{"p":"L","l":3,"x":0.56,"y":0.4},{"p":"L","l":3,"x":0.69,"y":0.24},{"p":"L","l":3,"x":0.81,"y":0.115},
{"p":"L","l":4,"x":0.3,"y":0.58},{"p":"L","l":4,"x":0.4,"y":0.47},{"p":"L","l":4,"x":0.53,"y":0.34},{"p":"L","l":4,"x":0.67,"y":0.21},{"p":"L","l":4,"x":0.81,"y":0.11},
{"p":"L","l":5,"x":0.22,"y":0.42},{"p":"L","l":5,"x":0.35,"y":0.36},{"p":"L","l":5,"x":0.5,"y":0.27},{"p":"L","l":5,"x":0.66,"y":0.18},{"p":"L","l":5,"x":0.81,"y":0.105},
{"p":"L","l":6,"x":0.14,"y":0.27},{"p":"L","l":6,"x":0.3,"y":0.24},{"p":"L","l":6,"x":0.48,"y":0.19},{"p":"L","l":6,"x":0.65,"y":0.14},{"p":"L","l":6,"x":0.81,"y":0.1},
{"p":"L","l":7,"x":0.07,"y":0.12},{"p":"L","l":7,"x":0.25,"y":0.13},{"p":"L","l":7,"x":0.45,"y":0.12},{"p":"L","l":7,"x":0.64,"y":0.11},{"p":"L","l":7,"x":0.81,"y":0.098},
{"p":"L","l":8,"x":0.56,"y":0.86},{"p":"L","l":8,"x":0.6,"y":0.68},{"p":"L","l":8,"x":0.67,"y":0.47},{"p":"L","l":8,"x":0.75,"y":0.29},{"p":"L","l":8,"x":0.82,"y":0.13},
{"p":"L","l":9,"x":0.64,"y":0.7},{"p":"L","l":9,"x":0.68,"y":0.54},{"p":"L","l":9,"x":0.74,"y":0.37},{"p":"L","l":9,"x":0.8,"y":0.2},{"p":"L","l":9,"x":0.83,"y":0.13},
{"p":"L","l":10,"x":0.75,"y":0.48},{"p":"L","l":10,"x":0.78,"y":0.36},{"p":"L","l":10,"x":0.81,"y":0.24},{"p":"L","l":10,"x":0.83,"y":0.14},
{"p":"L","l":11,"x":0.96,"y":0.04},{"p":"L","l":11,"x":0.91,"y":0.07},{"p":"L","l":11,"x":0.86,"y":0.09},
{"p":"L","l":12,"x":0.3,"y":0.02},{"p":"L","l":12,"x":0.55,"y":0.05},{"p":"L","l":12,"x":0.81,"y":0.09},
{"p":"L","l":13,"x":0.26,"y":0.5},{"p":"L","l":13,"x":0.38,"y":0.41},{"p":"L","l":13,"x":0.52,"y":0.3},{"p":"L","l":13,"x":0.66,"y":0.2},
{"p":"L","l":14,"x":0.1,"y":0.2},{"p":"L","l":14,"x":0.27,"y":0.19},{"p":"L","l":14,"x":0.46,"y":0.16},{"p":"L","l":14,"x":0.64,"y":0.125},

{"p":"M","l":1,"x":0.5,"y":0.95},{"p":"M","l":1,"x":0.55,"y":0.76},{"p":"M","l":1,"x":0.65,"y":0.54},{"p":"M","l":1,"x":0.78,"y":0.32},{"p":"M","l":1,"x":0.9,"y":0.12},
{"p":"M","l":2,"x":0.44,"y":0.86},{"p":"M","l":2,"x":0.49,"y":0.68},{"p":"M","l":2,"x":0.6,"y":0.47},{"p":"M","l":2,"x":0.74,"y":0.28},{"p":"M","l":2,"x":0.9,"y":0.1},
{"p":"M","l":3,"x":0.37,"y":0.72},{"p":"M","l":3,"x":0.44,"y":0.57},{"p":"M","l":3,"x":0.56,"y":0.4},{"p":"M","l":3,"x":0.72,"y":0.23},{"p":"M","l":3,"x":0.9,"y":0.085},
{"p":"M","l":4,"x":0.3,"y":0.58},{"p":"M","l":4,"x":0.39,"y":0.47},{"p":"M","l":4,"x":0.52,"y":0.34},{"p":"M","l":4,"x":0.69,"y":0.19},{"p":"M","l":4,"x":0.9,"y":0.075},
{"p":"M","l":5,"x":0.22,"y":0.42},{"p":"M","l":5,"x":0.33,"y":0.36},{"p":"M","l":5,"x":0.48,"y":0.26},{"p":"M","l":5,"x":0.66,"y":0.15},{"p":"M","l":5,"x":0.9,"y":0.07},
{"p":"M","l":6,"x":0.14,"y":0.27},{"p":"M","l":6,"x":0.27,"y":0.25},{"p":"M","l":6,"x":0.44,"y":0.19},{"p":"M","l":6,"x":0.64,"y":0.12},{"p":"M","l":6,"x":0.9,"y":0.066},
{"p":"M","l":7,"x":0.08,"y":0.15},{"p":"M","l":7,"x":0.22,"y":0.16},{"p":"M","l":7,"x":0.42,"y":0.13},{"p":"M","l":7,"x":0.64,"y":0.09},{"p":"M","l":7,"x":0.9,"y":0.062},
{"p":"M","l":8,"x":0.05,"y":0.04},{"p":"M","l":8,"x":0.22,"y":0.07},{"p":"M","l":8,"x":0.42,"y":0.07},{"p":"M","l":8,"x":0.65,"y":0.065},{"p":"M","l":8,"x":0.9,"y":0.06},
{"p":"M","l":9,"x":0.56,"y":0.86},{"p":"M","l":9,"x":0.6,"y":0.7},{"p":"M","l":9,"x":0.68,"y":0.5},{"p":"M","l":9,"x":0.79,"y":0.3},{"p":"M","l":9,"x":0.91,"y":0.1},
{"p":"M","l":10,"x":0.64,"y":0.7},{"p":"M","l":10,"x":0.68,"y":0.56},{"p":"M","l":10,"x":0.75,"y":0.4},{"p":"M","l":10,"x":0.84,"y":0.22},{"p":"M","l":10,"x":0.92,"y":0.09},
{"p":"M","l":11,"x":0.72,"y":0.54},{"p":"M","l":11,"x":0.76,"y":0.44},{"p":"M","l":11,"x":0.82,"y":0.3},{"p":"M","l":11,"x":0.88,"y":0.18},{"p":"M","l":11,"x":0.93,"y":0.09},
{"p":"M","l":12,"x":0.18,"y":0.35},{"p":"M","l":12,"x":0.3,"y":0.3},{"p":"M","l":12,"x":0.46,"y":0.22},{"p":"M","l":12,"x":0.66,"y":0.13},

{"p":"N","l":1,"x":0.5,"y":0.95},{"p":"N","l":1,"x":0.55,"y":0.76},{"p":"N","l":1,"x":0.64,"y":0.54},{"p":"N","l":1,"x":0.77,"y":0.32},{"p":"N","l":1,"x":0.89,"y":0.12},
{"p":"N","l":2,"x":0.44,"y":0.86},{"p":"N","l":2,"x":0.49,"y":0.68},{"p":"N","l":2,"x":0.59,"y":0.47},{"p":"N","l":2,"x":0.73,"y":0.28},{"p":"N","l":2,"x":0.89,"y":0.1},
{"p":"N","l":3,"x":0.37,"y":0.72},{"p":"N","l":3,"x":0.44,"y":0.57},{"p":"N","l":3,"x":0.56,"y":0.4},{"p":"N","l":3,"x":0.71,"y":0.23},{"p":"N","l":3,"x":0.89,"y":0.085},
{"p":"N","l":4,"x":0.3,"y":0.58},{"p":"N","l":4,"x":0.39,"y":0.47},{"p":"N","l":4,"x":0.52,"y":0.34},{"p":"N","l":4,"x":0.68,"y":0.19},{"p":"N","l":4,"x":0.89,"y":0.075},
{"p":"N","l":5,"x":0.22,"y":0.42},{"p":"N","l":5,"x":0.33,"y":0.36},{"p":"N","l":5,"x":0.48,"y":0.26},{"p":"N","l":5,"x":0.66,"y":0.15},{"p":"N","l":5,"x":0.89,"y":0.07},
{"p":"N","l":6,"x":0.14,"y":0.27},{"p":"N","l":6,"x":0.27,"y":0.25},{"p":"N","l":6,"x":0.44,"y":0.19},{"p":"N","l":6,"x":0.64,"y":0.12},{"p":"N","l":6,"x":0.89,"y":0.066},
{"p":"N","l":7,"x":0.08,"y":0.15},{"p":"N","l":7,"x":0.22,"y":0.16},{"p":"N","l":7,"x":0.42,"y":0.13},{"p":"N","l":7,"x":0.64,"y":0.09},{"p":"N","l":7,"x":0.89,"y":0.062},
{"p":"N","l":8,"x":0.05,"y":0.04},{"p":"N","l":8,"x":0.22,"y":0.07},{"p":"N","l":8,"x":0.42,"y":0.075},{"p":"N","l":8,"x":0.65,"y":0.068},{"p":"N","l":8,"x":0.89,"y":0.06},
{"p":"N","l":9,"x":0.56,"y":0.86},{"p":"N","l":9,"x":0.6,"y":0.7},{"p":"N","l":9,"x":0.68,"y":0.5},{"p":"N","l":9,"x":0.78,"y":0.3},{"p":"N","l":9,"x":0.9,"y":0.1},
{"p":"N","l":10,"x":0.64,"y":0.7},{"p":"N","l":10,"x":0.68,"y":0.56},{"p":"N","l":10,"x":0.75,"y":0.4},{"p":"N","l":10,"x":0.83,"y":0.22},{"p":"N","l":10,"x":0.91,"y":0.09},
{"p":"N","l":11,"x":0.72,"y":0.54},{"p":"N","l":11,"x":0.76,"y":0.44},{"p":"N","l":11,"x":0.81,"y":0.3},{"p":"N","l":11,"x":0.87,"y":0.18},{"p":"N","l":11,"x":0.92,"y":0.09},
{"p":"N","l":12,"x":0.18,"y":0.35},{"p":"N","l":12,"x":0.3,"y":0.3},{"p":"N","l":12,"x":0.46,"y":0.22},{"p":"N","l":12,"x":0.66,"y":0.13},

{"p":"O","l":1,"x":0.5,"y":0.95},{"p":"O","l":1,"x":0.55,"y":0.76},{"p":"O","l":1,"x":0.64,"y":0.54},{"p":"O","l":1,"x":0.76,"y":0.32},{"p":"O","l":1,"x":0.88,"y":0.12},
{"p":"O","l":2,"x":0.44,"y":0.86},{"p":"O","l":2,"x":0.49,"y":0.68},{"p":"O","l":2,"x":0.59,"y":0.47},{"p":"O","l":2,"x":0.72,"y":0.28},{"p":"O","l":2,"x":0.88,"y":0.1},
{"p":"O","l":3,"x":0.37,"y":0.72},{"p":"O","l":3,"x":0.44,"y":0.57},{"p":"O","l":3,"x":0.55,"y":0.4},{"p":"O","l":3,"x":0.7,"y":0.23},{"p":"O","l":3,"x":0.88,"y":0.085},
{"p":"O","l":4,"x":0.3,"y":0.58},{"p":"O","l":4,"x":0.39,"y":0.47},{"p":"O","l":4,"x":0.52,"y":0.34},{"p":"O","l":4,"x":0.68,"y":0.19},{"p":"O","l":4,"x":0.88,"y":0.075},
{"p":"O","l":5,"x":0.22,"y":0.42},{"p":"O","l":5,"x":0.33,"y":0.36},{"p":"O","l":5,"x":0.48,"y":0.26},{"p":"O","l":5,"x":0.66,"y":0.15},{"p":"O","l":5,"x":0.88,"y":0.07},
{"p":"O","l":6,"x":0.14,"y":0.27},{"p":"O","l":6,"x":0.27,"y":0.25},{"p":"O","l":6,"x":0.44,"y":0.19},{"p":"O","l":6,"x":0.64,"y":0.12},{"p":"O","l":6,"x":0.88,"y":0.066},
{"p":"O","l":7,"x":0.08,"y":0.15},{"p":"O","l":7,"x":0.22,"y":0.16},{"p":"O","l":7,"x":0.42,"y":0.13},{"p":"O","l":7,"x":0.64,"y":0.09},{"p":"O","l":7,"x":0.88,"y":0.062},
{"p":"O","l":8,"x":0.05,"y":0.04},{"p":"O","l":8,"x":0.22,"y":0.07},{"p":"O","l":8,"x":0.42,"y":0.075},{"p":"O","l":8,"x":0.65,"y":0.068},{"p":"O","l":8,"x":0.88,"y":0.06},
{"p":"O","l":9,"x":0.56,"y":0.86},{"p":"O","l":9,"x":0.6,"y":0.7},{"p":"O","l":9,"x":0.68,"y":0.5},{"p":"O","l":9,"x":0.77,"y":0.3},{"p":"O","l":9,"x":0.89,"y":0.1},
{"p":"O","l":10,"x":0.64,"y":0.7},{"p":"O","l":10,"x":0.68,"y":0.56},{"p":"O","l":10,"x":0.74,"y":0.4},{"p":"O","l":10,"x":0.82,"y":0.22},{"p":"O","l":10,"x":0.9,"y":0.09},
{"p":"O","l":11,"x":0.72,"y":0.54},{"p":"O","l":11,"x":0.76,"y":0.44},{"p":"O","l":11,"x":0.8,"y":0.3},{"p":"O","l":11,"x":0.86,"y":0.18},{"p":"O","l":11,"x":0.91,"y":0.09},
{"p":"O","l":12,"x":0.18,"y":0.35},{"p":"O","l":12,"x":0.3,"y":0.3},{"p":"O","l":12,"x":0.46,"y":0.22},{"p":"O","l":12,"x":0.66,"y":0.13}
]},
"transform": [
  {"calculate": "indexof('ABCDEFGHIJKLMNO', datum.p)", "as": "idx"},
  {"calculate": "floor(datum.idx / 3)", "as": "r"},
  {"calculate": "datum.idx % 3", "as": "c"}
],
"facet": {
  "row": {"field": "r", "type": "ordinal", "header": null},
  "column": {"field": "c", "type": "ordinal", "header": null}
},
"spacing": {"row": 36, "column": 62},
"bounds": "flush",
"spec": {
  "width": 204,
  "height": 172,
  "layer": [
    {
      "transform": [{"filter": "!datum.k"}],
      "mark": {"type": "line", "color": "#3d5b8e", "strokeWidth": 1.3, "interpolate": "catmull-rom"},
      "encoding": {
        "x": {"field": "x", "type": "quantitative", "scale": {"domain": [0, 1]}, "axis": null},
        "y": {"field": "y", "type": "quantitative", "scale": {"domain": [0, 1]}, "axis": null},
        "detail": {"field": "l", "type": "nominal"},
        "order": {"value": null}
      }
    },
    {
      "transform": [
        {"filter": "!datum.k"},
        {"window": [
          {"op": "lag", "field": "x", "as": "x0"},
          {"op": "lag", "field": "y", "as": "y0"},
          {"op": "lead", "field": "x", "as": "x1"},
          {"op": "lead", "field": "y", "as": "y1"}
        ], "groupby": ["p", "l"]},
        {"filter": "isValid(datum.x0) && isValid(datum.x1)"},
        {"calculate": "atan2(-(datum.y1 - datum.y0) * 172, (datum.x1 - datum.x0) * 204) * 180 / PI", "as": "ang"}
      ],
      "mark": {"type": "point", "shape": "M1,0L-1,-0.7L-1,0.7Z", "filled": true, "color": "#3d5b8e", "size": 88, "opacity": 1},
      "encoding": {
        "x": {"field": "x", "type": "quantitative", "scale": {"domain": [0, 1]}, "axis": null},
        "y": {"field": "y", "type": "quantitative", "scale": {"domain": [0, 1]}, "axis": null},
        "angle": {"field": "ang", "type": "quantitative", "scale": null}
      }
    },
    {
      "transform": [{"filter": "datum.k == 'e'"}],
      "mark": {"type": "rule", "color": "black", "strokeWidth": 3, "strokeCap": "round"},
      "encoding": {
        "x": {"datum": 0, "type": "quantitative", "scale": {"domain": [0, 1]}, "axis": null},
        "y": {"datum": 0, "type": "quantitative", "scale": {"domain": [0, 1]}, "axis": null},
        "x2": {"datum": 0.5}, "y2": {"datum": 1}
      }
    },
    {
      "transform": [{"filter": "datum.k == 'e'"}],
      "mark": {"type": "rule", "color": "black", "strokeWidth": 3, "strokeCap": "round"},
      "encoding": {
        "x": {"datum": 0.5, "type": "quantitative", "scale": {"domain": [0, 1]}, "axis": null},
        "y": {"datum": 1, "type": "quantitative", "scale": {"domain": [0, 1]}, "axis": null},
        "x2": {"datum": 1}, "y2": {"datum": 0}
      }
    },
    {
      "transform": [{"filter": "datum.k == 'e'"}],
      "mark": {"type": "rule", "color": "black", "strokeWidth": 3, "strokeCap": "round"},
      "encoding": {
        "x": {"datum": 0, "type": "quantitative", "scale": {"domain": [0, 1]}, "axis": null},
        "y": {"datum": 0, "type": "quantitative", "scale": {"domain": [0, 1]}, "axis": null},
        "x2": {"datum": 1}, "y2": {"datum": 0}
      }
    },
    {
      "transform": [{"filter": "datum.k == 'e'"}],
      "mark": {"type": "circle", "color": "#ff0000", "size": 130, "opacity": 1},
      "encoding": {
        "x": {"field": "x", "type": "quantitative", "scale": {"domain": [0, 1]}, "axis": null},
        "y": {"field": "y", "type": "quantitative", "scale": {"domain": [0, 1]}, "axis": null}
      }
    },
    {
      "transform": [{"filter": "datum.k == 'e'"}],
      "mark": {"type": "text", "text": "P", "fontSize": 18.5, "align": "center", "baseline": "alphabetic", "color": "black"},
      "encoding": {
        "x": {"datum": 0.5, "type": "quantitative", "scale": {"domain": [0, 1]}, "axis": null},
        "y": {"datum": 1.037, "type": "quantitative", "scale": {"domain": [0, 1]}, "axis": null}
      }
    },
    {
      "transform": [{"filter": "datum.k == 'e'"}],
      "mark": {"type": "text", "text": "C", "fontSize": 18.5, "align": "center", "baseline": "alphabetic", "color": "black"},
      "encoding": {
        "x": {"datum": -0.082, "type": "quantitative", "scale": {"domain": [0, 1]}, "axis": null},
        "y": {"datum": -0.068, "type": "quantitative", "scale": {"domain": [0, 1]}, "axis": null}
      }
    },
    {
      "transform": [{"filter": "datum.k == 'e'"}],
      "mark": {"type": "text", "text": "D", "fontSize": 18.5, "align": "center", "baseline": "alphabetic", "color": "black"},
      "encoding": {
        "x": {"datum": 1.088, "type": "quantitative", "scale": {"domain": [0, 1]}, "axis": null},
        "y": {"datum": -0.068, "type": "quantitative", "scale": {"domain": [0, 1]}, "axis": null}
      }
    },
    {
      "transform": [{"filter": "datum.k == 'e'"}],
      "mark": {"type": "text", "fontSize": 14, "fontWeight": "bold", "align": "left", "baseline": "alphabetic", "color": "black"},
      "encoding": {
        "x": {"datum": -0.005, "type": "quantitative", "scale": {"domain": [0, 1]}, "axis": null},
        "y": {"datum": 0.89, "type": "quantitative", "scale": {"domain": [0, 1]}, "axis": null},
        "text": {"field": "p"}
      }
    },
    {
      "transform": [{"filter": "datum.k == 'e' && isValid(datum.b)"}],
      "mark": {"type": "text", "text": "β", "fontSize": 20, "fontStyle": "italic", "angle": 270, "align": "left", "baseline": "middle", "color": "black"},
      "encoding": {
        "x": {"datum": -0.135, "type": "quantitative", "scale": {"domain": [0, 1]}, "axis": null},
        "y": {"datum": 0.39, "type": "quantitative", "scale": {"domain": [0, 1]}, "axis": null}
      }
    },
    {
      "transform": [{"filter": "datum.k == 'e' && isValid(datum.b)"}],
      "mark": {"type": "text", "fontSize": 20, "angle": 270, "align": "left", "baseline": "middle", "color": "black"},
      "encoding": {
        "x": {"datum": -0.135, "type": "quantitative", "scale": {"domain": [0, 1]}, "axis": null},
        "y": {"datum": 0.488, "type": "quantitative", "scale": {"domain": [0, 1]}, "axis": null},
        "text": {"field": "b"}
      }
    },
    {
      "transform": [{"filter": "datum.k == 'e' && datum.p == 'A'"}],
      "mark": {"type": "text", "text": "Punish", "fontSize": 21, "align": "left", "baseline": "alphabetic", "color": "black"},
      "encoding": {
        "x": {"datum": 0.037, "type": "quantitative", "scale": {"domain": [0, 1]}, "axis": null},
        "y": {"datum": 1.192, "type": "quantitative", "scale": {"domain": [0, 1]}, "axis": null}
      }
    },
    {
      "transform": [{"filter": "datum.k == 'e' && datum.p == 'A'"}],
      "mark": {"type": "text", "text": "ALL", "fontSize": 21, "fontWeight": "bold", "align": "left", "baseline": "alphabetic", "color": "black"},
      "encoding": {
        "x": {"datum": 0.38, "type": "quantitative", "scale": {"domain": [0, 1]}, "axis": null},
        "y": {"datum": 1.192, "type": "quantitative", "scale": {"domain": [0, 1]}, "axis": null}
      }
    },
    {
      "transform": [{"filter": "datum.k == 'e' && datum.p == 'A'"}],
      "mark": {"type": "text", "text": "defectors", "fontSize": 21, "align": "left", "baseline": "alphabetic", "color": "black"},
      "encoding": {
        "x": {"datum": 0.608, "type": "quantitative", "scale": {"domain": [0, 1]}, "axis": null},
        "y": {"datum": 1.192, "type": "quantitative", "scale": {"domain": [0, 1]}, "axis": null}
      }
    },
    {
      "transform": [{"filter": "datum.k == 'e' && datum.p == 'B'"}],
      "mark": {"type": "text", "text": "Punish", "fontSize": 21, "align": "left", "baseline": "alphabetic", "color": "black"},
      "encoding": {
        "x": {"datum": -0.076, "type": "quantitative", "scale": {"domain": [0, 1]}, "axis": null},
        "y": {"datum": 1.192, "type": "quantitative", "scale": {"domain": [0, 1]}, "axis": null}
      }
    },
    {
      "transform": [{"filter": "datum.k == 'e' && datum.p == 'B'"}],
      "mark": {"type": "text", "text": "ONE", "fontSize": 21, "fontWeight": "bold", "align": "left", "baseline": "alphabetic", "color": "black"},
      "encoding": {
        "x": {"datum": 0.267, "type": "quantitative", "scale": {"domain": [0, 1]}, "axis": null},
        "y": {"datum": 1.192, "type": "quantitative", "scale": {"domain": [0, 1]}, "axis": null}
      }
    },
    {
      "transform": [{"filter": "datum.k == 'e' && datum.p == 'B'"}],
      "mark": {"type": "text", "text": "of defectors", "fontSize": 21, "align": "left", "baseline": "alphabetic", "color": "black"},
      "encoding": {
        "x": {"datum": 0.519, "type": "quantitative", "scale": {"domain": [0, 1]}, "axis": null},
        "y": {"datum": 1.192, "type": "quantitative", "scale": {"domain": [0, 1]}, "axis": null}
      }
    },
    {
      "transform": [{"filter": "datum.k == 'e' && datum.p == 'C'"}],
      "mark": {"type": "text", "text": "Punish", "fontSize": 21, "align": "left", "baseline": "alphabetic", "color": "black"},
      "encoding": {
        "x": {"datum": -0.142, "type": "quantitative", "scale": {"domain": [0, 1]}, "axis": null},
        "y": {"datum": 1.192, "type": "quantitative", "scale": {"domain": [0, 1]}, "axis": null}
      }
    },
    {
      "transform": [{"filter": "datum.k == 'e' && datum.p == 'C'"}],
      "mark": {"type": "text", "text": "ONE-SIDED", "fontSize": 21, "fontWeight": "bold", "align": "left", "baseline": "alphabetic", "color": "black"},
      "encoding": {
        "x": {"datum": 0.201, "type": "quantitative", "scale": {"domain": [0, 1]}, "axis": null},
        "y": {"datum": 1.192, "type": "quantitative", "scale": {"domain": [0, 1]}, "axis": null}
      }
    },
    {
      "transform": [{"filter": "datum.k == 'e' && datum.p == 'C'"}],
      "mark": {"type": "text", "text": "defectors", "fontSize": 21, "align": "left", "baseline": "alphabetic", "color": "black"},
      "encoding": {
        "x": {"datum": 0.799, "type": "quantitative", "scale": {"domain": [0, 1]}, "axis": null},
        "y": {"datum": 1.192, "type": "quantitative", "scale": {"domain": [0, 1]}, "axis": null}
      }
    }
  ]
},
"config": {"view": {"stroke": null}, "font": "Liberation Sans"}
}
